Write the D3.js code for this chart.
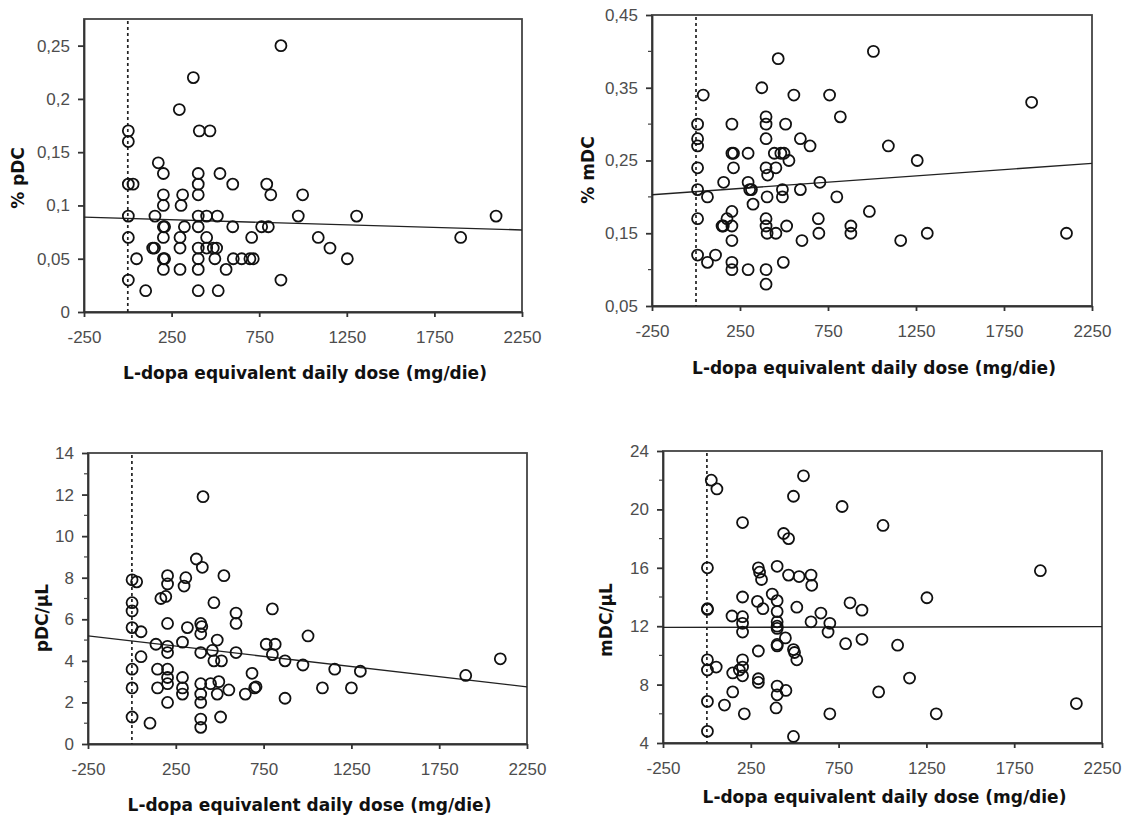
<!DOCTYPE html>
<meta charset="utf-8">
<html>
<style>
	body { margin: 0; background: #fff; }
	.tick text { font-family: "Liberation Sans", Arial, sans-serif; font-size: 17px; fill: #4d4d4d; }
	.axis path, .axis line { stroke: #333; stroke-width: 1.8px; }
	.title { font-family: "DejaVu Sans", sans-serif; font-weight: bold; font-size: 17px; fill: #111; }
	.dot { fill: none; stroke: #111; stroke-width: 1.8px; }
</style>
<body>
<script src="https://d3js.org/d3.v7.min.js"></script>
<script>
// x axis: L-dopa equivalent daily dose (mg/die)
var doseTicks = [-250, 250, 750, 1250, 1750, 2250];

// % pDC
var pctPdc = [
	[874,0.25],[374,0.22],[294,0.19],[3,0.17],[3,0.16],[408,0.17],[469,0.17],[174,0.14],[203,0.13],[402,0.13],
	[526,0.13],[599,0.12],[793,0.12],[816,0.11],[3,0.12],[30,0.12],[203,0.11],[313,0.11],[402,0.12],[402,0.11],
	[203,0.10],[304,0.10],[3,0.09],[155,0.09],[402,0.09],[450,0.09],[511,0.09],[203,0.08],[210,0.08],[323,0.08],
	[402,0.08],[599,0.08],[764,0.08],[802,0.08],[3,0.07],[203,0.07],[298,0.07],[450,0.07],[707,0.07],[142,0.06],
	[152,0.06],[298,0.06],[402,0.06],[450,0.06],[488,0.06],[507,0.06],[50,0.05],[203,0.05],[210,0.05],[402,0.05],
	[497,0.05],[602,0.05],[650,0.05],[697,0.05],[716,0.05],[3,0.03],[203,0.04],[298,0.04],[402,0.04],[561,0.04],
	[874,0.03],[102,0.02],[402,0.02],[516,0.02],[998,0.11],[973,0.09],[1306,0.09],[2102,0.09],[1087,0.07],
	[1154,0.06],[1253,0.05],[1900,0.07]
];
var pctPdcFit = [[-250, 0.089], [2250, 0.077]];
var pctPdcTicks = ["0", "0,05", "0,1", "0,15", "0,2", "0,25"];

// % mDC
var pctMdc = [
	[467,0.39],[41,0.34],[9,0.30],[9,0.28],[9,0.27],[9,0.24],[9,0.21],[9,0.17],[9,0.12],[65,0.11],
	[65,0.20],[111,0.12],[157,0.22],[148,0.16],[155,0.16],[176,0.17],[204,0.18],[204,0.16],[204,0.14],[204,0.11],
	[204,0.10],[204,0.30],[204,0.26],[213,0.26],[213,0.24],[296,0.26],[296,0.22],[305,0.21],[315,0.21],[296,0.10],
	[324,0.19],[374,0.35],[398,0.31],[398,0.30],[398,0.28],[398,0.24],[407,0.23],[404,0.20],[398,0.17],[398,0.16],
	[404,0.15],[398,0.10],[398,0.08],[454,0.24],[454,0.15],[445,0.26],[482,0.26],[500,0.26],[528,0.25],[509,0.30],
	[491,0.21],[491,0.20],[515,0.16],[496,0.11],[556,0.34],[593,0.28],[648,0.27],[593,0.21],[602,0.14],[704,0.22],
	[695,0.17],[698,0.15],[759,0.34],[820,0.31],[800,0.20],[880,0.16],[880,0.15],[1008,0.40],[1093,0.27],
	[1257,0.25],[1907,0.33],[985,0.18],[1163,0.14],[1314,0.15],[2105,0.15]
];
var pctMdcFit = [[-250, 0.203], [2250, 0.246]];
var pctMdcTicks = ["0,05", "0,15", "0,25", "0,35", "0,45"];

// pDC/uL
var pdcCount = [
	[405,11.9],[1,7.9],[27,7.8],[1,6.8],[1,6.4],[1,5.6],[52,5.4],[52,4.2],[1,3.6],[1,2.7],
	[1,1.3],[103,1.0],[137,4.8],[146,3.6],[146,2.7],[165,7.0],[193,7.1],[203,8.1],[203,7.7],[203,5.8],
	[203,4.7],[203,4.4],[203,3.6],[203,3.2],[203,2.9],[203,2.0],[288,4.9],[297,7.6],[307,8.0],[316,5.6],
	[288,3.2],[288,2.7],[288,2.4],[367,8.9],[401,8.5],[392,5.8],[398,5.65],[392,5.3],[392,4.4],[392,2.9],
	[392,2.4],[392,2.0],[392,1.2],[392,0.8],[467,6.8],[486,5.0],[458,4.5],[467,4.0],[510,4.0],[448,2.9],
	[495,3.0],[486,2.4],[505,1.3],[524,8.1],[552,2.6],[593,6.3],[593,5.8],[593,4.4],[646,2.4],[684,3.4],
	[699,2.7],[707,2.75],[800,6.5],[765,4.8],[816,4.8],[800,4.3],[872,4.0],[872,2.2],[1003,5.2],[974,3.8],
	[1155,3.6],[1301,3.5],[1085,2.7],[1250,2.7],[1901,3.3],[2098,4.1]
];
var pdcCountFit = [[-250, 5.2], [2250, 2.75]];
var pdcCountTicks = ["0", "2", "4", "6", "8", "10", "12", "14"];

// mDC/uL
var mdcCount = [
	[25,22.0],[57,21.4],[3,16.0],[3,13.2],[3,13.15],[3,9.7],[3,9.0],[53,9.2],[3,6.85],[3,4.8],
	[100,6.6],[147,7.5],[147,8.8],[185,9.0],[203,8.6],[203,9.2],[203,9.7],[143,12.7],[203,19.1],[203,14.0],
	[203,12.65],[203,12.2],[203,11.6],[213,6.0],[293,16.0],[300,15.7],[311,15.2],[288,13.7],[319,13.2],[293,10.3],
	[293,8.4],[293,8.15],[372,14.2],[400,16.1],[400,13.75],[400,13.0],[400,12.3],[400,12.0],[400,11.85],[400,10.75],
	[400,10.65],[400,7.9],[400,7.3],[394,6.4],[447,11.2],[450,7.6],[437,18.35],[465,18.0],[465,15.5],[493,20.9],
	[493,10.4],[499,10.2],[512,9.7],[493,4.45],[550,22.3],[512,13.3],[525,15.4],[593,15.5],[597,14.8],[593,12.3],
	[649,12.9],[700,12.2],[690,11.6],[700,6.0],[770,20.2],[815,13.6],[790,10.8],[1003,18.9],[1899,15.8],
	[1253,13.95],[883,13.1],[883,11.1],[1086,10.7],[1154,8.45],[978,7.5],[1306,6.0],[2104,6.7]
];
var mdcCountFit = [[-250, 11.92], [2250, 11.97]];
var mdcCountTicks = ["4", "8", "12", "16", "20", "24"];

var width = 1125, height = 818;
var xTitle = "L-dopa equivalent daily dose (mg/die)";

var svg = d3.select("body").append("svg")
	.attr("width", width)
	.attr("height", height);

var panels = [
	{ left: 84, right: 522, top: 19, bottom: 312, ymin: 0, ymax: 0.275, ticks: pctPdcTicks, minor: [],
	  data: pctPdc, fit: pctPdcFit, label: "% pDC", labelX: 18, labelY: 178, titleY: 373 },
	{ left: 652, right: 1092, top: 15, bottom: 306, ymin: 0.05, ymax: 0.45, ticks: pctMdcTicks, minor: [0.1, 0.2, 0.3, 0.4],
	  data: pctMdc, fit: pctMdcFit, label: "% mDC", labelX: 588, labelY: 170, titleY: 368 },
	{ left: 88, right: 527, top: 453, bottom: 744, ymin: 0, ymax: 14, ticks: pdcCountTicks, minor: [1, 3, 5, 7, 9, 11, 13],
	  data: pdcCount, fit: pdcCountFit, label: "pDC/\u03bcL", labelX: 42, labelY: 618, titleY: 805 },
	{ left: 663, right: 1102, top: 451, bottom: 743, ymin: 4, ymax: 24, ticks: mdcCountTicks, minor: [6, 10, 14, 18, 22],
	  data: mdcCount, fit: mdcCountFit, label: "mDC/\u03bcL", labelX: 606, labelY: 620, titleY: 797 }
];

panels.forEach(drawPanel);

function drawPanel(p) {
	var x = d3.scaleLinear().domain([-250, 2250]).range([p.left, p.right]);
	var y = d3.scaleLinear().domain([p.ymin, p.ymax]).range([p.bottom, p.top]);
	var g = svg.append("g");

	// frame
	g.append("rect")
		.attr("x", p.left).attr("y", p.top)
		.attr("width", p.right - p.left).attr("height", p.bottom - p.top)
		.attr("fill", "none").attr("stroke", "#444").attr("stroke-width", 1.8);

	// minor y ticks
	g.selectAll(".minor").data(p.minor).enter().append("line")
		.attr("x1", p.left - 4).attr("x2", p.left)
		.attr("y1", function (d) { return y(d); })
		.attr("y2", function (d) { return y(d); })
		.attr("stroke", "#444").attr("stroke-width", 1.2);

	var yVals = p.ticks.map(function (t) { return +t.replace(",", "."); });

	g.append("g").attr("class", "axis")
		.attr("transform", "translate(" + p.left + ",0)")
		.call(d3.axisLeft(y).tickValues(yVals).tickSize(6).tickSizeOuter(0).tickPadding(8)
			.tickFormat(function (d, i) { return p.ticks[i]; }));

	g.append("g").attr("class", "axis")
		.attr("transform", "translate(0," + p.bottom + ")")
		.call(d3.axisBottom(x).tickValues(doseTicks).tickSize(5).tickSizeOuter(0).tickPadding(14)
			.tickFormat(function (d) { return String(d); }));

	// zero dose reference
	g.append("line")
		.attr("x1", x(0)).attr("x2", x(0))
		.attr("y1", p.top + 2).attr("y2", p.bottom)
		.attr("stroke", "#222").attr("stroke-width", 1.7)
		.attr("stroke-dasharray", "3,3");

	// regression line
	g.append("line")
		.attr("x1", x(p.fit[0][0])).attr("y1", y(p.fit[0][1]))
		.attr("x2", x(p.fit[1][0])).attr("y2", y(p.fit[1][1]))
		.attr("stroke", "#222").attr("stroke-width", 1.4);

	g.selectAll(".dot").data(p.data).enter().append("circle")
		.attr("class", "dot")
		.attr("cx", function (d) { return x(d[0]); })
		.attr("cy", function (d) { return y(d[1]); })
		.attr("r", 5.5);

	g.append("text")
		.attr("class", "title")
		.attr("x", (p.left + p.right) / 2 + 2)
		.attr("y", p.titleY)
		.attr("text-anchor", "middle")
		.attr("dominant-baseline", "central")
		.text(xTitle);

	g.append("text")
		.attr("class", "title")
		.attr("transform", "translate(" + p.labelX + "," + p.labelY + ") rotate(-90)")
		.attr("text-anchor", "middle")
		.attr("dominant-baseline", "central")
		.text(p.label);
}
</script>
</body>
</html>
